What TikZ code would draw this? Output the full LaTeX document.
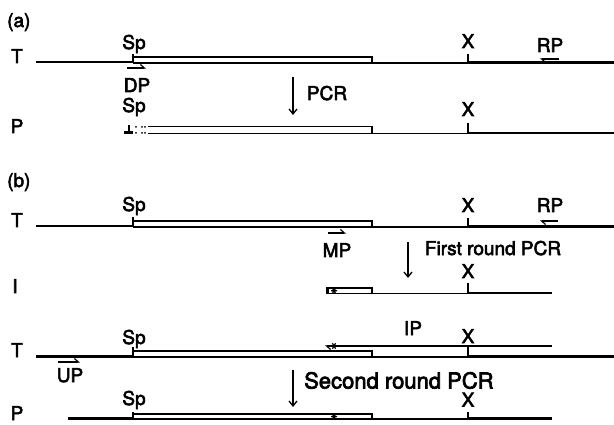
\documentclass[tikz,border=0pt]{standalone}
\usepackage{fontspec}
\setmainfont{TeX Gyre Heros}
\newfontfamily\lblfont[FakeBold=3]{TeX Gyre Heros}
\usetikzlibrary{arrows.meta}
\begin{document}
\begin{tikzpicture}[x=1pt,y=-1pt,
  lbl/.style={font=\lblfont\fontsize{19}{19}\selectfont, inner sep=0pt, anchor=base},
  thickdna/.style={line width=2.7pt},
  thindna/.style={line width=1.2pt},
  boxdna/.style={line width=1.1pt},
  sitetick/.style={line width=1.4pt},
  primer/.style={line width=1.2pt, -{Straight Barb[harpoon,length=4pt,width=7pt]}},
  pcrarrow/.style={line width=1.3pt, -{Straight Barb[length=5pt,width=8pt]}},
  astar/.pic={\draw[line width=1.2pt] (-3,0)--(3,0) (-1.6,-2.7)--(1.6,2.7) (-1.6,2.7)--(1.6,-2.7);}
]
\useasboundingbox (0,0) rectangle (614,425);

% ---------------- (a) ----------------
\node[lbl, anchor=base west] (la) at (7,27) {(a)};
% T row
\node[lbl] (aT) at (17,63) {T};
\draw[thickdna] (36,62) -- (133,62);
\draw[sitetick] (133,62.5) -- (133,54);
\draw[boxdna] (133,57) -- (372,57) -- (372,63);
\draw[thindna] (133,63) -- (468,63);
\draw[sitetick] (468,63) -- (468,54);
\draw[thickdna] (468,62.5) -- (614,62.5);
\node[lbl] (aTsp) at (134,49) {Sp};
\node[lbl] (aTx) at (468,48) {X};
\node[lbl] (aTrp) at (550,52) {RP};
\draw[primer] (559,59) -- (540,59);
\draw[primer] (127,68) -- (146,68);
\node[lbl] (aTdp) at (137,92) {DP};
% PCR arrow
\draw[pcrarrow] (293,77) -- (293,115);
\node[lbl] (apcr) at (327,100) {PCR};
% P row
\node[lbl] (aP) at (17,133) {P};
\node[lbl] (aPsp) at (134,112) {Sp};
\node[lbl] (aPx) at (468,116) {X};
\draw[line width=2.4pt] (124,132.5) -- (133,132.5);
\draw[line width=1.8pt] (129,133) -- (129,125.5);
\fill (136,127) circle (1) (136,132.8) circle (1) (142,127) circle (1) (142,132.8) circle (1) (145,127) circle (1) (145,132.8) circle (1);
\draw[boxdna] (148,126.5) -- (372,126.5) -- (372,133.5);
\draw[thindna] (148,133.5) -- (468,133.5);
\draw[sitetick] (468,133.5) -- (468,123);
\draw[thickdna] (468,133) -- (614,133);

% ---------------- (b) ----------------
\node[lbl, anchor=base west] (lb) at (7,187) {(b)};
% T row
\node[lbl] (bT) at (17,227) {T};
\draw[thickdna] (36,226) -- (133,226);
\draw[sitetick] (133,226.5) -- (133,217);
\draw[boxdna] (133,221) -- (372,221) -- (372,227);
\draw[thindna] (133,227) -- (468,227);
\draw[sitetick] (468,227) -- (468,218);
\draw[thickdna] (468,226.5) -- (614,226.5);
\node[lbl] (bTsp) at (134,211) {Sp};
\node[lbl] (bTx) at (468,212) {X};
\node[lbl] (bTrp) at (550,212) {RP};
\draw[primer] (558,221) -- (540,221);
\draw[primer] (328,233) -- (346,233);
\node[lbl] (bTmp) at (337,257) {MP};
% first round
\draw[pcrarrow] (408,242) -- (408,278);
\node[lbl] (bpcr1) at (493,255) {First round PCR};
% I row
\node[lbl] (bI) at (15,293) {I};
\node[lbl] (bIx) at (468,278) {X};
\draw[boxdna] (327,288) rectangle (372,293.5);
\draw[line width=2.2pt] (328,288) -- (328,293.5);
\pic at (334,290.8) {astar};
\draw[thindna] (372,293.5) -- (468,293.5);
\draw[sitetick] (468,293.5) -- (468,283);
\draw[thickdna] (468,293) -- (552,293);
% T2 row
\node[lbl] (bT2) at (17,357) {T};
\draw[thickdna] (36,356.5) -- (133,356.5);
\draw[sitetick] (133,357) -- (133,347);
\draw[boxdna] (133,351) -- (372,351) -- (372,357);
\draw[thindna] (133,357) -- (468,357);
\draw[sitetick] (468,357) -- (468,346);
\draw[thickdna] (468,356.5) -- (614,356.5);
\node[lbl] (bT2sp) at (134,344) {Sp};
\node[lbl] (bT2x) at (468,343) {X};
\node[lbl] (bT2ip) at (413,335) {IP};
\draw[primer] (552,346) -- (325,346);
\pic at (334,346) {astar};
\draw[primer] (58,362) -- (80,362);
\node[lbl] (bT2up) at (70,382) {UP};
% second round
\draw[pcrarrow] (293,370) -- (293,407);
\node[lbl, anchor=base west, font=\lblfont\fontsize{22}{22}\selectfont] (bpcr2) at (304,388.5) {Second round PCR};
% P row
\node[lbl] (bP) at (17,420) {P};
\node[lbl] (bPsp) at (134,405) {Sp};
\node[lbl] (bPx) at (468,406.5) {X};
\draw[thickdna] (68,418.5) -- (133,418.5);
\draw[sitetick] (133,419) -- (133,412);
\draw[boxdna] (133,414) -- (372,414) -- (372,419);
\draw[thindna] (133,419) -- (468,419);
\pic at (334,416.5) {astar};
\draw[sitetick] (468,419) -- (468,412);
\draw[thickdna] (468,418.5) -- (552,418.5);
\end{tikzpicture}
\end{document}
